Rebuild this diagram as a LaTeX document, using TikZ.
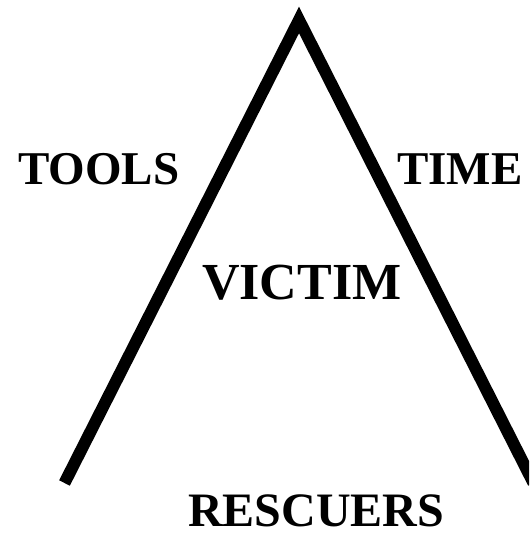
\documentclass[tikz,border=0pt]{standalone}
\usepackage{fontspec}
\setmainfont{Liberation Serif}
\usepackage{tikz}
\usetikzlibrary{positioning}
\tikzset{
  lbl/.style={inner sep=0pt,anchor=base west,font=\bfseries\fontsize{47}{47}\selectfont},
  biglbl/.style={lbl,font=\bfseries\fontsize{52}{52}\selectfont},
  side/.style={line width=12pt,line cap=butt,line join=miter,color=black}
}
\begin{document}
\begin{tikzpicture}[x=1pt,y=1pt]

  \useasboundingbox (0,0) rectangle (529,534);
  \clip (0,0) rectangle (529,534);

  % triangle without base
  \coordinate (apex) at (299,514);
  \coordinate (lfoot) at (64.5,51);
  \coordinate (rfoot) at (533.5,51);

  \node[lbl] (tools) at (18,349) {TOOLS};
  \node[lbl] (time) at (397,349) {TIME};
  \node[biglbl] (victim) at (202,234) {VICTIM};
  \node[lbl,font=\bfseries\fontsize{48}{48}\selectfont] (resc) at (188,8) {RESCUERS};

  \draw[side] (lfoot) -- (apex) -- (rfoot);

\end{tikzpicture}
\end{document}
